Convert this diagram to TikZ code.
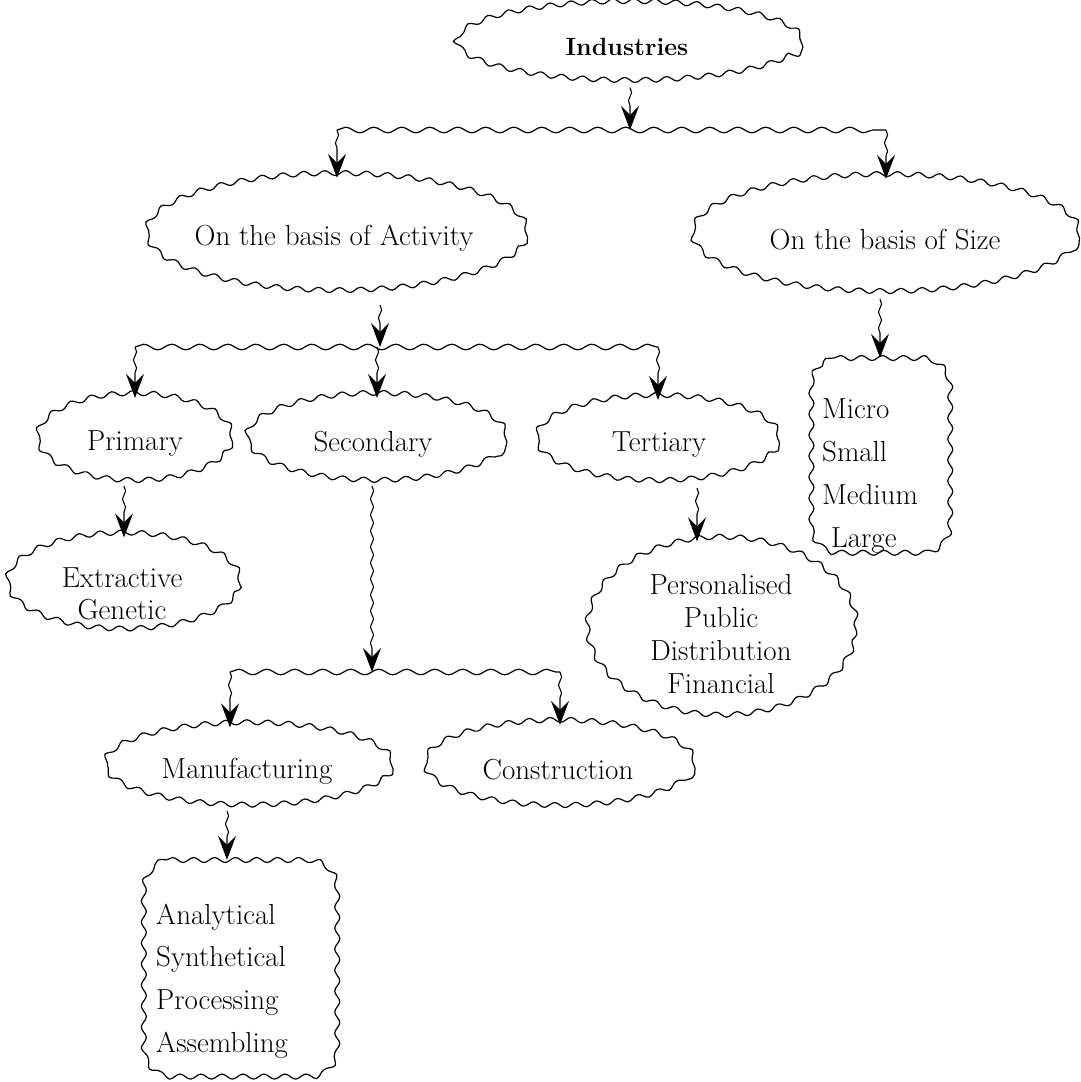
\documentclass[tikz,border=0pt]{standalone}
\usepackage{fontspec}
\usetikzlibrary{shapes.geometric,decorations.pathmorphing,arrows.meta}
\begin{document}
\begin{tikzpicture}[x=1pt,y=-1pt,
  wavy/.style={line width=1.2pt, decorate, decoration={snake, amplitude=2.5pt, segment length=21pt}},
  wshape/.style={draw, ellipse, inner sep=0pt, wavy},
  anchorbox/.style={rectangle, inner sep=0pt},
  lbl/.style={font=\fontsize{29}{34}\selectfont, inner sep=0pt, align=center},
  wbar/.style={line width=1.2pt, decorate, decoration={snake, amplitude=2.8pt, segment length=28pt}},
  warrow/.style={line width=1.1pt, -{Stealth[length=24pt,width=18pt,inset=9pt]},
    decorate, decoration={snake, amplitude=1.6pt, segment length=16pt, post length=22pt}},
]
\useasboundingbox (0,0) rectangle (1080,1082);

% shapes
\node[wshape, minimum width=346pt, minimum height=80pt] (ind) at (630,47) {};
\node[inner sep=0pt, font=\bfseries\fontsize{25}{30}\selectfont] (indT) at (627,47) {Industries};

\node[wshape, minimum width=381pt, minimum height=117pt] (act) at (337,237) {};
\node[lbl] (actT) at (334,238) {On the basis of Activity};

\node[wshape, minimum width=387pt, minimum height=117pt] (siz) at (886,238) {};
\node[lbl] (sizT) at (885,240) {On the basis of Size};

\node[wshape, minimum width=195pt, minimum height=87pt] (pri) at (135,442) {};
\node[lbl] (priT) at (135,444) {Primary};

\node[wshape, minimum width=260pt, minimum height=87pt] (sec) at (377,442) {};
\node[lbl] (secT) at (373,444) {Secondary};

\node[wshape, minimum width=243pt, minimum height=85pt] (ter) at (658,443) {};
\node[lbl] (terT) at (659,445) {Tertiary};

\node[wshape, minimum width=233pt, minimum height=96pt] (ext) at (124,586) {};
\node[lbl, font=\fontsize{29}{32}\selectfont] (extT) at (122,594) {Extractive\\Genetic};

\node[wshape, minimum width=269pt, minimum height=178pt] (per) at (722,631) {};
\node[lbl, font=\fontsize{29}{33.3}\selectfont] (perT) at (721,634) {Personalised\\Public\\Distribution\\Financial};

% Micro box (806..945, 358..553)
\node[anchorbox, minimum width=139pt, minimum height=195pt] (mic) at (875.5,455.5) {};
\draw[wavy] (834,358) -- (917,358) arc[start angle=-90, end angle=0, radius=28]
  -- (945,525) arc[start angle=0, end angle=90, radius=28]
  -- (834,553) arc[start angle=90, end angle=180, radius=28]
  -- (806,386) arc[start angle=180, end angle=270, radius=28] -- cycle;
\node[lbl, align=left, anchor=west, font=\fontsize{29}{42.7}\selectfont] (micT) at (822,476) {Micro\\Small\\Medium\\\hspace*{9pt}Large};

\node[wshape, minimum width=288pt, minimum height=82pt] (man) at (249,769) {};
\node[lbl] (manT) at (247,771) {Manufacturing};

\node[wshape, minimum width=270pt, minimum height=85pt] (con) at (560,768) {};
\node[lbl] (conT) at (558,770) {Construction};

% Analytical box (138..332, 860..1076)
\node[anchorbox, minimum width=194pt, minimum height=216pt] (ana) at (235,968) {};
\draw[wavy] (166,860) -- (304,860) arc[start angle=-90, end angle=0, radius=28]
  -- (332,1048) arc[start angle=0, end angle=90, radius=28]
  -- (166,1076) arc[start angle=90, end angle=180, radius=28]
  -- (138,888) arc[start angle=180, end angle=270, radius=28] -- cycle;
\node[lbl, align=left, anchor=west, font=\fontsize{29}{42.7}\selectfont] (anaT) at (156,981) {Analytical\\Synthetical\\Processing\\Assembling};

% connectors level 1
\coordinate (j1) at (630,130);
\draw[warrow] (ind.south) -- (j1);
\coordinate (b1L) at (act.north |- j1);
\coordinate (b1R) at (siz.north |- j1);
\draw[wbar] (b1L) -- (b1R);
\draw[warrow] (b1L) -- (act.north);
\draw[warrow] (b1R) -- (siz.north);

% activity branch
\coordinate (a2s) at (380,305);
\coordinate (a2e) at (380,347);
\draw[warrow] (a2s) -- (a2e);
\coordinate (b2L) at (pri.north |- a2e);
\coordinate (b2M) at (sec.north |- a2e);
\coordinate (b2R) at (ter.north |- a2e);
\draw[wbar] (b2L) -- (b2R);
\draw[warrow] (b2L) -- (pri.north);
\draw[warrow] (b2M) -- (sec.north);
\draw[warrow] (b2R) -- (ter.north);

% primary -> extractive
\draw[warrow] (ext.north |- pri.south) -- (ext.north);

% tertiary -> personalised
\coordinate (t2) at (697,488);
\draw[warrow] (t2) -- (t2 |- per.north);

% size -> micro
\coordinate (s2) at (880,299);
\draw[warrow] (s2) -- (s2 |- mic.north);

% secondary -> lower bar
\coordinate (s3) at (372,486);
\coordinate (b3M) at (372,672);
\draw[warrow] (s3) -- (b3M);
\coordinate (b3L) at (230,672);
\coordinate (b3R) at (con.north |- b3L);
\draw[wbar] (b3L) -- (b3R);
\draw[warrow] (b3L) -- (b3L |- man.north);
\draw[warrow] (b3R) -- (con.north);

% manufacturing -> analytical
\coordinate (m2) at (227,811);
\draw[warrow] (m2) -- (m2 |- ana.north);
\end{tikzpicture}
\end{document}
